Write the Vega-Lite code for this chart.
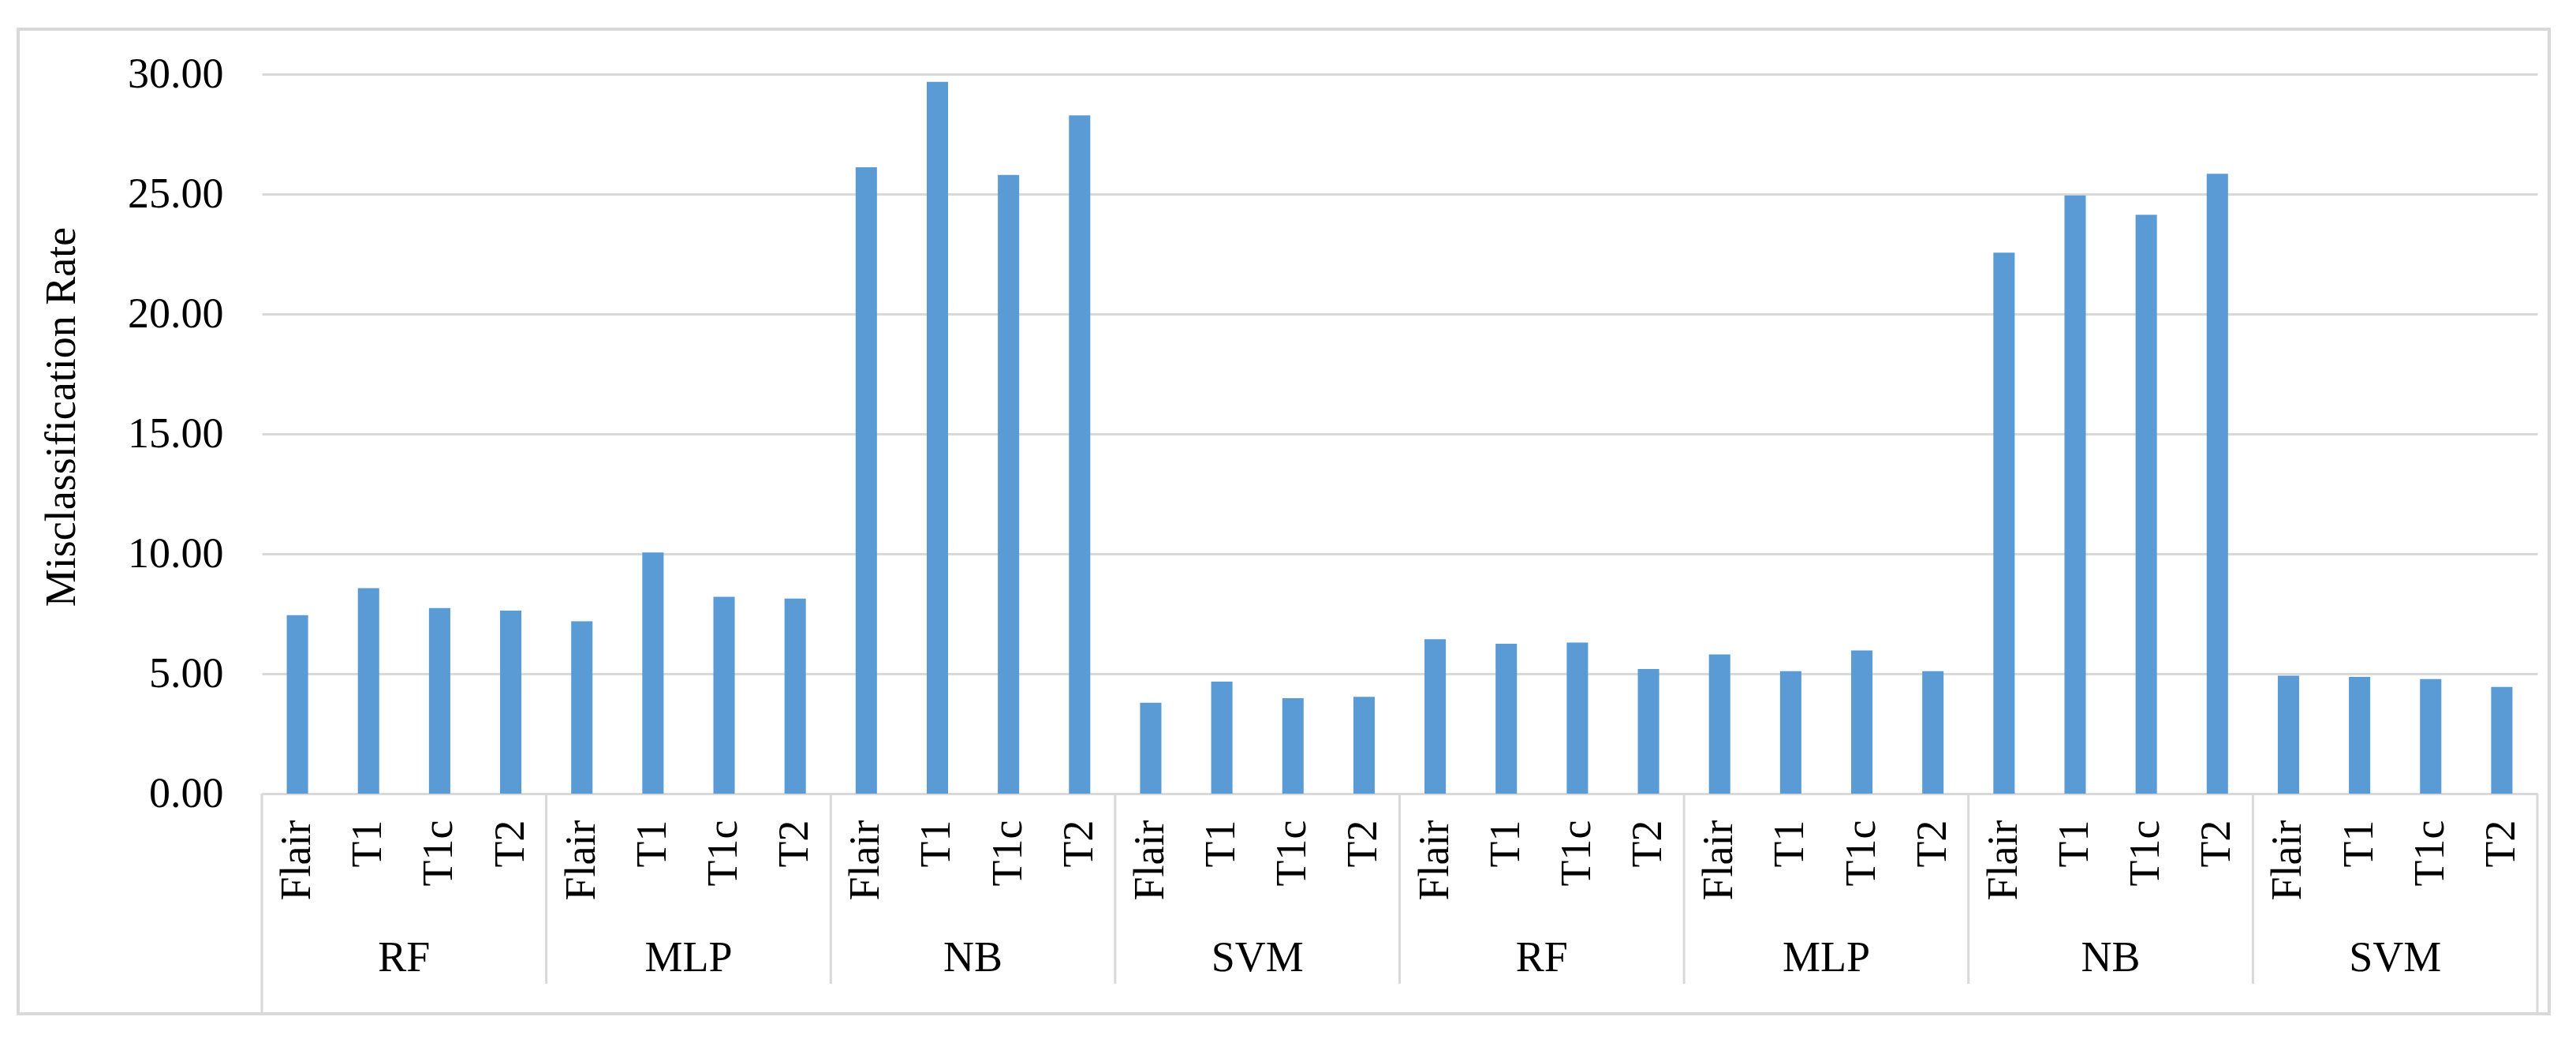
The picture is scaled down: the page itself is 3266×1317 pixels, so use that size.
{
  "$schema": "https://vega.github.io/schema/vega-lite/v6.json",
  "width": 3209,
  "height": 1248,
  "autosize": {"type": "none"},
  "padding": {"left": 23, "top": 37, "right": 34, "bottom": 32},
  "background": "white",
  "config": {
    "view": {"stroke": "#d9d9d9", "strokeWidth": 4},
    "font": "Liberation Serif"
  },
  "data": {
    "values": [
      {"bar": "A-RF-Flair", "group": "A-RF", "model": "RF", "mri": "Flair", "rate": 7.44},
      {"bar": "A-RF-T1", "group": "A-RF", "model": "RF", "mri": "T1", "rate": 8.57},
      {"bar": "A-RF-T1c", "group": "A-RF", "model": "RF", "mri": "T1c", "rate": 7.74},
      {"bar": "A-RF-T2", "group": "A-RF", "model": "RF", "mri": "T2", "rate": 7.63},
      {"bar": "B-MLP-Flair", "group": "B-MLP", "model": "MLP", "mri": "Flair", "rate": 7.19},
      {"bar": "B-MLP-T1", "group": "B-MLP", "model": "MLP", "mri": "T1", "rate": 10.06},
      {"bar": "B-MLP-T1c", "group": "B-MLP", "model": "MLP", "mri": "T1c", "rate": 8.21},
      {"bar": "B-MLP-T2", "group": "B-MLP", "model": "MLP", "mri": "T2", "rate": 8.13},
      {"bar": "C-NB-Flair", "group": "C-NB", "model": "NB", "mri": "Flair", "rate": 26.12},
      {"bar": "C-NB-T1", "group": "C-NB", "model": "NB", "mri": "T1", "rate": 29.68},
      {"bar": "C-NB-T1c", "group": "C-NB", "model": "NB", "mri": "T1c", "rate": 25.80},
      {"bar": "C-NB-T2", "group": "C-NB", "model": "NB", "mri": "T2", "rate": 28.28},
      {"bar": "D-SVM-Flair", "group": "D-SVM", "model": "SVM", "mri": "Flair", "rate": 3.79},
      {"bar": "D-SVM-T1", "group": "D-SVM", "model": "SVM", "mri": "T1", "rate": 4.67},
      {"bar": "D-SVM-T1c", "group": "D-SVM", "model": "SVM", "mri": "T1c", "rate": 3.98},
      {"bar": "D-SVM-T2", "group": "D-SVM", "model": "SVM", "mri": "T2", "rate": 4.04},
      {"bar": "E-RF-Flair", "group": "E-RF", "model": "RF", "mri": "Flair", "rate": 6.44},
      {"bar": "E-RF-T1", "group": "E-RF", "model": "RF", "mri": "T1", "rate": 6.25},
      {"bar": "E-RF-T1c", "group": "E-RF", "model": "RF", "mri": "T1c", "rate": 6.30},
      {"bar": "E-RF-T2", "group": "E-RF", "model": "RF", "mri": "T2", "rate": 5.20},
      {"bar": "F-MLP-Flair", "group": "F-MLP", "model": "MLP", "mri": "Flair", "rate": 5.81},
      {"bar": "F-MLP-T1", "group": "F-MLP", "model": "MLP", "mri": "T1", "rate": 5.11},
      {"bar": "F-MLP-T1c", "group": "F-MLP", "model": "MLP", "mri": "T1c", "rate": 5.97},
      {"bar": "F-MLP-T2", "group": "F-MLP", "model": "MLP", "mri": "T2", "rate": 5.11},
      {"bar": "G-NB-Flair", "group": "G-NB", "model": "NB", "mri": "Flair", "rate": 22.56},
      {"bar": "G-NB-T1", "group": "G-NB", "model": "NB", "mri": "T1", "rate": 24.94},
      {"bar": "G-NB-T1c", "group": "G-NB", "model": "NB", "mri": "T1c", "rate": 24.14},
      {"bar": "G-NB-T2", "group": "G-NB", "model": "NB", "mri": "T2", "rate": 25.85},
      {"bar": "H-SVM-Flair", "group": "H-SVM", "model": "SVM", "mri": "Flair", "rate": 4.92},
      {"bar": "H-SVM-T1", "group": "H-SVM", "model": "SVM", "mri": "T1", "rate": 4.87},
      {"bar": "H-SVM-T1c", "group": "H-SVM", "model": "SVM", "mri": "T1c", "rate": 4.78},
      {"bar": "H-SVM-T2", "group": "H-SVM", "model": "SVM", "mri": "T2", "rate": 4.45}
    ]
  },
  "layer": [
    {
      "mark": {"type": "bar", "color": "#5b9bd5"},
      "encoding": {
        "x": {
          "field": "bar",
          "type": "nominal",
          "sort": "ascending",
          "scale": {"range": [309, 3194], "paddingInner": 0.7, "paddingOuter": 0.35},
          "axis": {
            "title": null,
            "orient": "bottom",
            "offset": -279,
            "domain": true,
            "domainColor": "#d9d9d9",
            "domainWidth": 3,
            "ticks": false,
            "tickSize": 0,
            "grid": false,
            "labelAngle": -90,
            "labelAlign": "right",
            "labelBaseline": "middle",
            "labelPadding": 33,
            "labelFontSize": 54,
            "labelColor": "#000000",
            "labelFont": "Liberation Serif",
            "labelExpr": "split(datum.value, '-')[2]"
          }
        },
        "y": {
          "field": "rate",
          "type": "quantitative",
          "scale": {"domain": [0, 30], "range": [969, 57], "nice": false},
          "axis": {
            "title": "Misclassification Rate",
            "values": [0, 5, 10, 15, 20, 25, 30],
            "format": ".2f",
            "offset": -309,
            "domain": false,
            "ticks": false,
            "tickSize": 0,
            "labelPadding": 49,
            "labelFontSize": 54,
            "labelColor": "#000000",
            "labelFont": "Liberation Serif",
            "grid": true,
            "gridColor": "#d9d9d9",
            "gridWidth": 3,
            "titleFont": "Liberation Serif",
            "titleFontSize": 54,
            "titleFontWeight": "normal",
            "titleColor": "#000000",
            "titleAngle": -90,
            "titleAlign": "center",
            "titleBaseline": "alphabetic",
            "titleX": -238,
            "titleY": 491
          }
        }
      }
    },
    {
      "transform": [
        {"aggregate": [{"op": "count", "as": "n"}], "groupby": ["group", "model"]}
      ],
      "encoding": {
        "x": {
          "field": "group",
          "type": "nominal",
          "sort": "ascending",
          "scale": {
            "domain": ["A-RF", "B-MLP", "C-NB", "D-SVM", "E-RF", "F-MLP", "G-NB", "H-SVM"],
            "range": [309, 3194],
            "paddingInner": 0,
            "paddingOuter": 0
          },
          "axis": null
        }
      },
      "layer": [
        {
          "mark": {"type": "text", "fontSize": 54, "font": "Liberation Serif", "color": "#000000", "align": "center", "baseline": "alphabetic"},
          "encoding": {
            "y": {"datum": -7.4},
            "text": {"field": "model"}
          }
        },
        {
          "transform": [{"filter": "datum.group != 'A-RF'"}],
          "mark": {"type": "rule", "color": "#d9d9d9", "strokeWidth": 3},
          "encoding": {
            "x": {"field": "group", "type": "nominal", "bandPosition": 0},
            "y": {"datum": 0},
            "y2": {"datum": -7.93}
          }
        },
        {
          "transform": [{"filter": "datum.group == 'A-RF'"}],
          "mark": {"type": "rule", "color": "#d9d9d9", "strokeWidth": 3},
          "encoding": {
            "x": {"field": "group", "type": "nominal", "bandPosition": 0},
            "y": {"datum": 0},
            "y2": {"datum": -9.11}
          }
        },
        {
          "transform": [{"filter": "datum.group == 'H-SVM'"}],
          "mark": {"type": "rule", "color": "#d9d9d9", "strokeWidth": 3},
          "encoding": {
            "x": {"field": "group", "type": "nominal", "bandPosition": 1},
            "y": {"datum": 0},
            "y2": {"datum": -9.11}
          }
        }
      ]
    }
  ],
  "resolve": {"scale": {"x": "independent"}}
}
